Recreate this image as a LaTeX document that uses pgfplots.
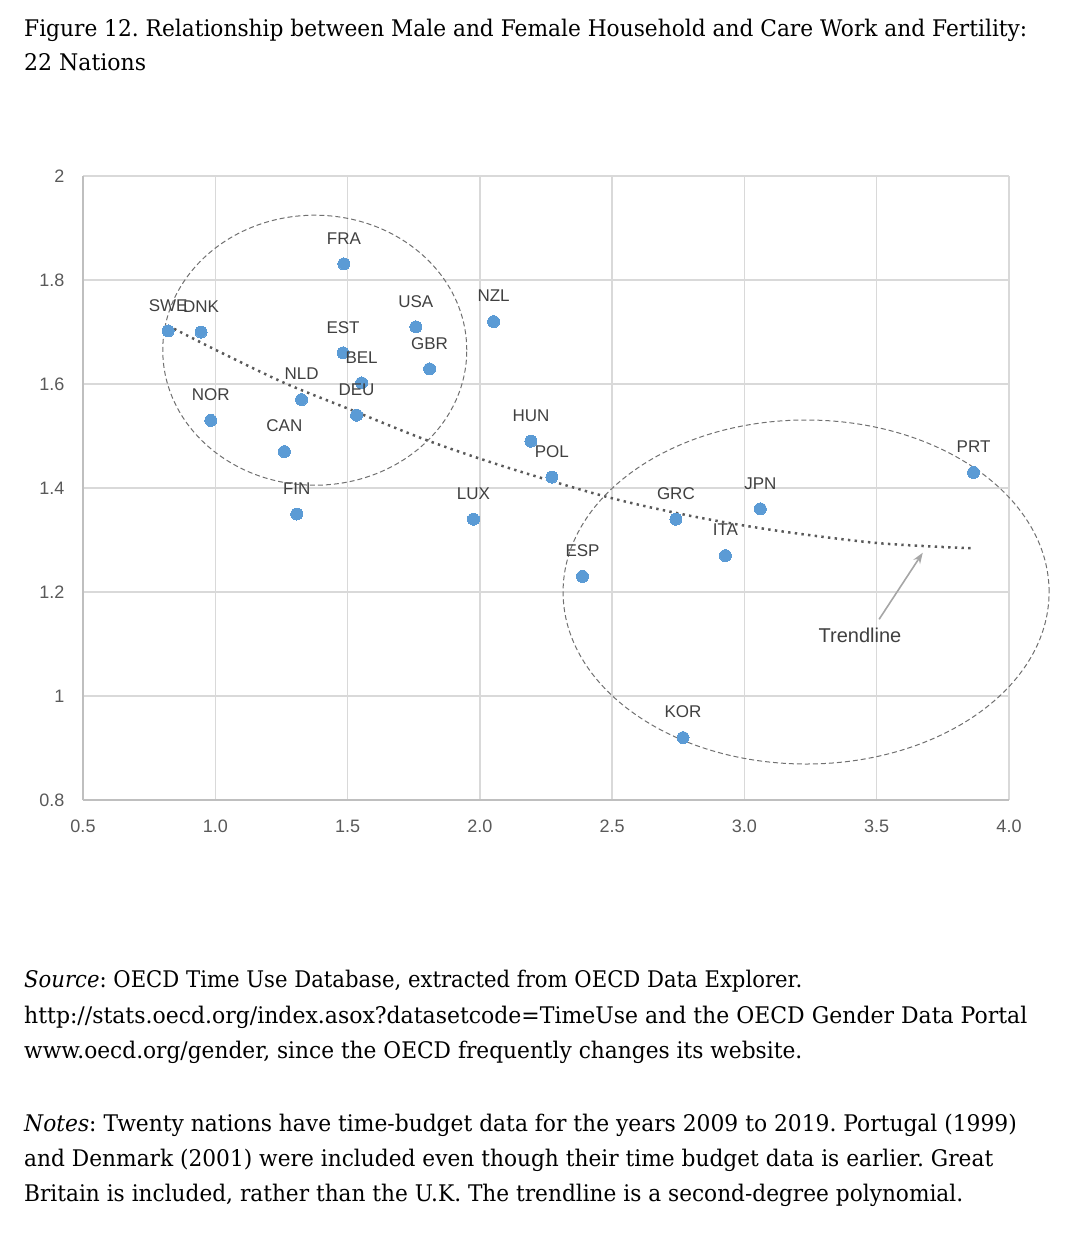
\documentclass[border=0pt]{standalone}
\usepackage{fontspec}
\usepackage{graphicx}
\usepackage{pgfplots}
\usepackage{pgfplotstable}
\pgfplotsset{compat=1.18}
\usetikzlibrary{arrows.meta}
\newfontfamily\labfont{Liberation Sans}
\newfontfamily\bodyfont{DejaVu Serif}
\definecolor{ptblue}{HTML}{5B9BD5}
\definecolor{labc}{HTML}{404040}
\definecolor{tickc}{HTML}{595959}
\definecolor{gridc}{HTML}{D9D9D9}
\definecolor{axisc}{HTML}{BFBFBF}
\definecolor{ellc}{HTML}{707070}
\definecolor{arrc}{HTML}{A6A6A6}
\definecolor{trendc}{HTML}{595959}
\pgfplotstableread{
x y name
0.822 1.702 SWE
0.946 1.700 DNK
0.983 1.530 NOR
1.486 1.831 FRA
1.483 1.660 EST
1.553 1.602 BEL
1.534 1.540 DEU
1.326 1.570 NLD
1.261 1.470 CAN
1.308 1.350 FIN
1.758 1.710 USA
1.810 1.629 GBR
2.052 1.720 NZL
2.193 1.490 HUN
2.272 1.421 POL
1.976 1.340 LUX
2.388 1.230 ESP
2.741 1.340 GRC
2.928 1.270 ITA
3.060 1.360 JPN
2.768 0.920 KOR
3.866 1.430 PRT
}\pts
\newlength\reflen
\newcommand\fitline[2]{\resizebox{#1}{\height}{#2}}
\begin{document}
\frenchspacing
\settowidth\reflen{\bodyfont\fontsize{22.9pt}{24pt}\selectfont http://stats.oecd.org/index.asox?datasetcode=TimeUse and the OECD Gender Data Portal}%
\pgfmathsetmacro\bstretch{1003/\reflen}%
\edef\bodyset{\noexpand\bodyfont\noexpand\addfontfeatures{FakeStretch=\bstretch}\noexpand\fontsize{22.9pt}{35.5pt}\noexpand\selectfont}%
\begin{tikzpicture}
\path[use as bounding box] (0pt,0pt) rectangle (1068pt,-1236pt);
\begin{axis}[
  at={(83pt,-800pt)}, anchor=south west,
  scale only axis, width=926pt, height=624pt,
  xmin=0.5, xmax=4, ymin=0.8, ymax=2,
  axis x line*=bottom, axis y line*=left,
  xtick={0.5,1,1.5,2,2.5,3,3.5,4},
  xticklabels={0.5,1.0,1.5,2.0,2.5,3.0,3.5,4.0},
  ytick={0.8,1,1.2,1.4,1.6,1.8,2},
  yticklabels={0.8,1,1.2,1.4,1.6,1.8,2},
  grid=major,
  major grid style={draw=gridc, line width=1.3pt},
  axis line style={draw=axisc, line width=1.3pt},
  major tick length=0pt,
  tick label style={font=\labfont\fontsize{18pt}{20pt}\selectfont, text=tickc, inner sep=0pt},
  xticklabel style={anchor=north, yshift=-20pt},
  yticklabel style={anchor=east, xshift=-18.5pt},
  clip=false,
]
\addplot[only marks, mark=*, mark size=6pt,
  mark options={fill=ptblue, draw=ptblue, line width=0pt},
  nodes near coords, point meta=explicit symbolic,
  every node near coord/.append style={anchor=center, yshift=25.5pt,
    font=\labfont\fontsize{17pt}{19pt}\selectfont, text=labc, inner sep=0pt}]
  table[x=x, y=y, meta=name] {\pts};
\addplot[no marks, smooth, draw=trendc, line width=2.5pt, dash pattern=on 2.4pt off 4.3pt]
  coordinates {(0.822,1.712) (1.0,1.666) (1.257,1.603) (1.5,1.553) (1.799,1.492) (2.1,1.440)
  (2.479,1.383) (2.8,1.346) (3.122,1.318) (3.506,1.294) (3.862,1.284)};
\draw[ellc, line width=1pt, dash pattern=on 5pt off 3pt]
  (axis cs:1.376,1.665) ellipse [x radius=152pt, y radius=135pt];
\draw[ellc, line width=1pt, dash pattern=on 5pt off 3pt]
  (axis cs:3.233,1.200) ellipse [x radius=243pt, y radius=172pt];
\draw[arrc, line width=1.6pt, -{Stealth[length=11pt, width=8pt]}]
  (axis cs:3.509,1.1475) -- (axis cs:3.674,1.2756);
\node[font=\labfont\fontsize{20pt}{22pt}\selectfont, text=labc, inner sep=0pt]
  at (axis cs:3.437,1.117) {Trendline};
\end{axis}
\begin{scope}[every node/.style={anchor=base west, inner sep=0pt, font=\bodyset}]
\node at (24pt,-36.7pt) {\fitline{1003pt}{Figure 12. Relationship between Male and Female Household and Care Work and Fertility:}};
\node at (24pt,-71pt) {\fitline{122pt}{22 Nations}};
\node at (24pt,-987.7pt) {\fitline{778pt}{\textit{Source}: OECD Time Use Database, extracted from OECD Data Explorer.}};
\node at (24pt,-1023.2pt) {\fitline{1003pt}{http://stats.oecd.org/index.asox?datasetcode=TimeUse and the OECD Gender Data Portal}};
\node at (24pt,-1058.7pt) {\fitline{778pt}{www.oecd.org/gender, since the OECD frequently changes its website.}};
\node at (24pt,-1131.7pt) {\fitline{992.7pt}{\textit{Notes}: Twenty nations have time-budget data for the years 2009 to 2019. Portugal (1999)}};
\node at (24pt,-1166.2pt) {\fitline{969pt}{and Denmark (2001) were included even though their time budget data is earlier. Great}};
\node at (24pt,-1201pt) {\fitline{939pt}{Britain is included, rather than the U.K. The trendline is a second-degree polynomial.}};
\end{scope}
\end{tikzpicture}
\end{document}
